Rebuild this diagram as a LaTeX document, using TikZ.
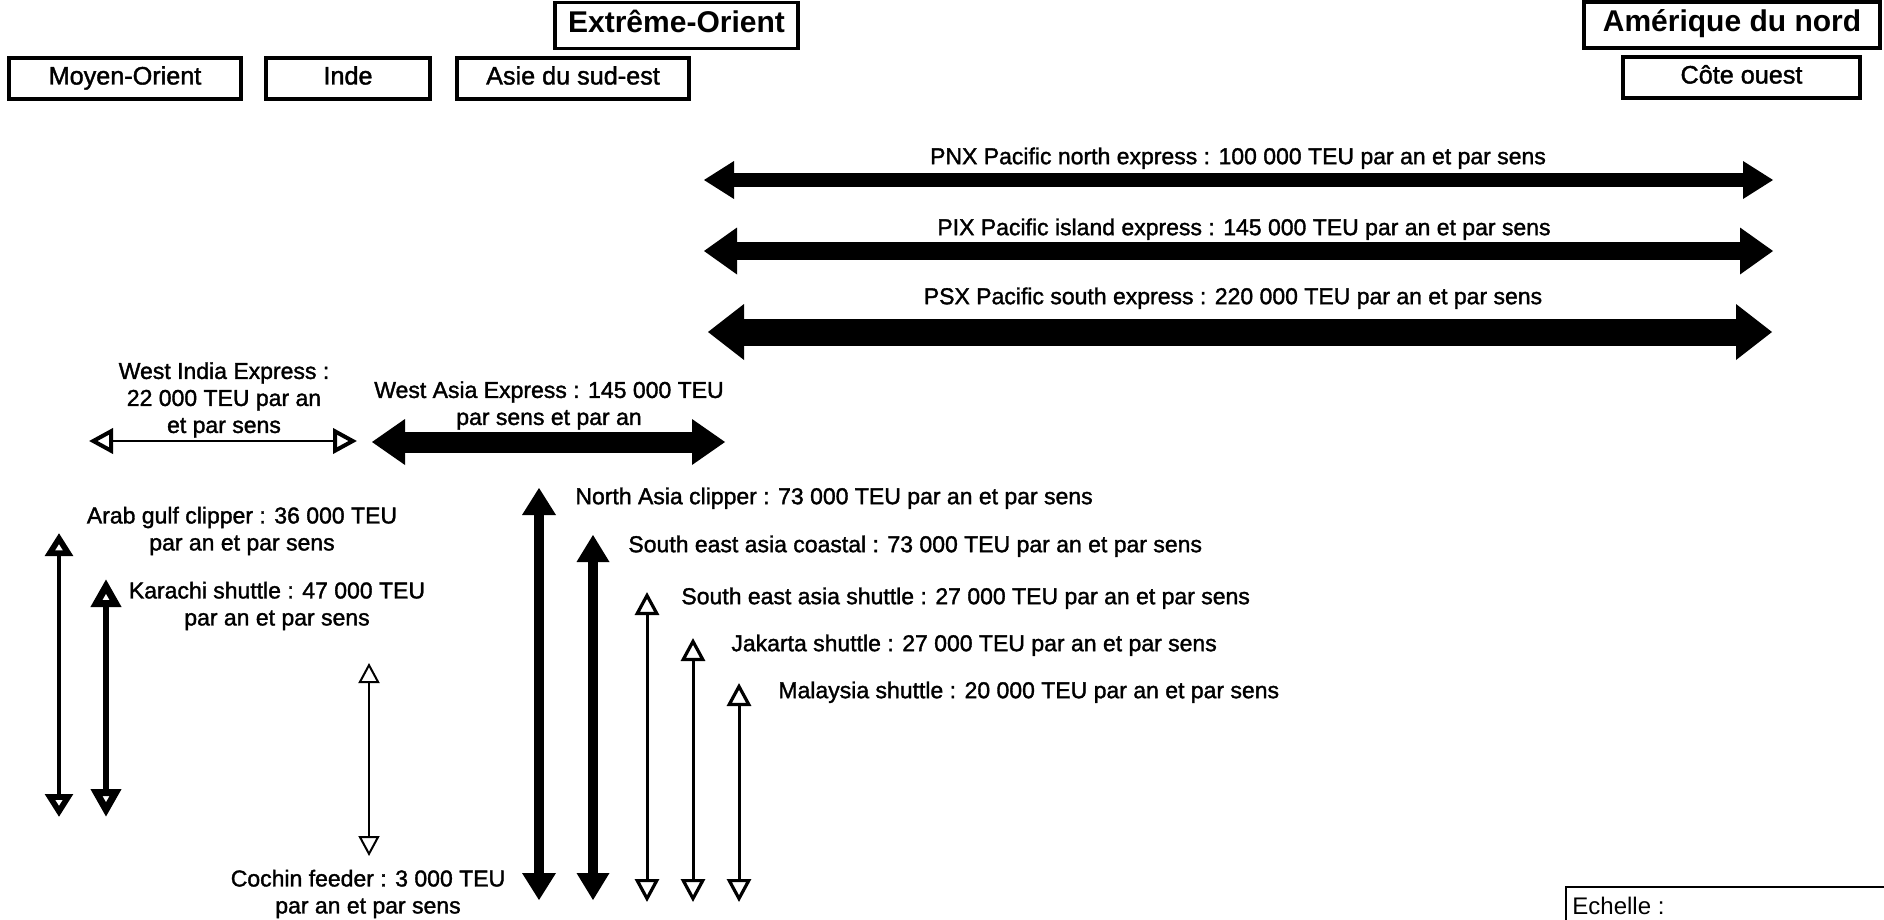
\documentclass[tikz,border=0pt]{standalone}
\usepackage{fontspec}
\setmainfont{Liberation Sans}
\newfontfamily\heavyfont{Liberation Sans}[FakeBold=1.5]
\usetikzlibrary{arrows.meta}
\begin{document}
\begin{tikzpicture}[x=0.5pt,y=-0.5pt,
  lbl/.style={inner sep=0pt, font=\heavyfont\fontsize{11.5}{13.5}\selectfont},
  oneline/.style={lbl, text height=8.2pt, text depth=0pt},
  multi/.style={lbl, align=center},
  region/.style={draw, line width=1.7pt, inner sep=0pt, minimum height=20.5pt,
    text height=9pt, text depth=3pt, font=\heavyfont\fontsize{12.6}{14}\selectfont},
  bigregion/.style={draw, line width=1.7pt, inner sep=0pt, minimum height=23pt,
    text height=10.6pt, text depth=4pt, font=\fontsize{15}{17}\selectfont\bfseries},
  solidarr/.style n args={3}{line width=#1, <->,
    >={Triangle[length=#2,width=#3,line width=0pt]}},
  openarr/.style n args={4}{line width=#1, <->,
    >={Triangle[open,length=#2,width=#3,line width=#4]}},
]
\useasboundingbox (0,0) rectangle (1884,920);

% region boxes
\node[bigregion, minimum width=121.5pt] (eo) at (676.5,25.5) {Extrême-Orient};
\node[bigregion, minimum width=148pt] (an) at (1732,25) {Amérique du nord};
\node[region, minimum width=116pt] (mo) at (125,78.5) {Moyen-Orient};
\node[region, minimum width=82pt] (in) at (348,78.5) {Inde};
\node[region, minimum width=116pt] (ase) at (573,78.5) {Asie du sud-est};
\node[region, minimum width=118.5pt] (co) at (1741.5,77.5) {Côte ouest};

% Pacific services
\coordinate (pnxW) at (704,180); \coordinate (pnxE) at (1773,180);
\coordinate (pixW) at (704,251); \coordinate (pixE) at (1773,251);
\coordinate (psxW) at (708,332); \coordinate (psxE) at (1772,332);
\draw[solidarr={7pt}{15pt}{19pt}] (pnxW) -- (pnxE);
\draw[solidarr={9pt}{16.5pt}{23.5pt}] (pixW) -- (pixE);
\draw[solidarr={13.5pt}{18pt}{28pt}] (psxW) -- (psxE);
\node[oneline] (pnx) at (1238,156) {PNX Pacific north express : 100 000 TEU par an et par sens};
\node[oneline] (pix) at (1244,227) {PIX Pacific island express : 145 000 TEU par an et par sens};
\node[oneline] (psx) at (1233,296) {PSX Pacific south express : 220 000 TEU par an et par sens};

% West India / West Asia
\coordinate (wiW) at (89,441); \coordinate (wiE) at (357,441);
\coordinate (waW) at (372,442); \coordinate (waE) at (725,442);
\draw[openarr={1.25pt}{12pt}{12.5pt}{2pt}] (wiW) -- (wiE);
\draw[solidarr={10.5pt}{16.5pt}{23pt}] (waW) -- (waE);
\node[multi] (wi) at (224,400) {West India Express :\\22 000 TEU par an\\et par sens};
\node[multi] (wa) at (549,405.5) {West Asia Express : 145 000 TEU\\par sens et par an};

% Moyen-Orient / Inde services
\coordinate (agT) at (59,533); \coordinate (agB) at (59,817);
\coordinate (kaT) at (106,579); \coordinate (kaB) at (106,817);
\coordinate (cfT) at (369,663); \coordinate (cfB) at (369,856);
\draw[openarr={2.25pt}{11.5pt}{13.5pt}{3.2pt}] (agT) -- (agB);
\draw[openarr={3.25pt}{14pt}{14.5pt}{4.8pt}] (kaT) -- (kaB);
\draw[openarr={0.75pt}{10pt}{10.5pt}{1pt}] (cfT) -- (cfB);
\node[multi] (ag) at (242,531) {Arab gulf clipper : 36 000 TEU\\par an et par sens};
\node[multi] (ka) at (277,606) {Karachi shuttle : 47 000 TEU\\par an et par sens};
\node[multi] (cf) at (368,894) {Cochin feeder : 3 000 TEU\\par an et par sens};

% Asian services
\coordinate (naT) at (539,488); \coordinate (naB) at (539,900);
\coordinate (scT) at (593,535); \coordinate (scB) at (593,900);
\coordinate (ssT) at (647,592); \coordinate (ssB) at (647,902);
\coordinate (jkT) at (693,638); \coordinate (jkB) at (693,902);
\coordinate (msT) at (739,683); \coordinate (msB) at (739,902);
\draw[solidarr={5pt}{13.5pt}{17pt}] (naT) -- (naB);
\draw[solidarr={5pt}{13.5pt}{16.5pt}] (scT) -- (scB);
\draw[openarr={1.5pt}{11.5pt}{12pt}{1.6pt}] (ssT) -- (ssB);
\draw[openarr={1.5pt}{11.5pt}{12pt}{1.6pt}] (jkT) -- (jkB);
\draw[openarr={1.5pt}{11.5pt}{12pt}{1.6pt}] (msT) -- (msB);
\node[oneline, anchor=west] (na) at (575,496) {North Asia clipper : 73 000 TEU par an et par sens};
\node[oneline, anchor=west] (sc) at (628,544) {South east asia coastal : 73 000 TEU par an et par sens};
\node[oneline, anchor=west] (ss) at (681,596) {South east asia shuttle : 27 000 TEU par an et par sens};
\node[oneline, anchor=west] (jk) at (731,643) {Jakarta shuttle : 27 000 TEU par an et par sens};
\node[oneline, anchor=west] (ms) at (778,690) {Malaysia shuttle : 20 000 TEU par an et par sens};

% scale box
\coordinate (ecBL) at (1566,920); \coordinate (ecTR) at (1884,887);
\draw[line width=1.2pt] (ecBL) |- (ecTR);
\node[anchor=west, inner sep=0pt, text height=8.6pt, text depth=0pt,
  font=\fontsize{12}{14}\selectfont] (ech) at (1572,906) {Echelle :};
\end{tikzpicture}
\end{document}
